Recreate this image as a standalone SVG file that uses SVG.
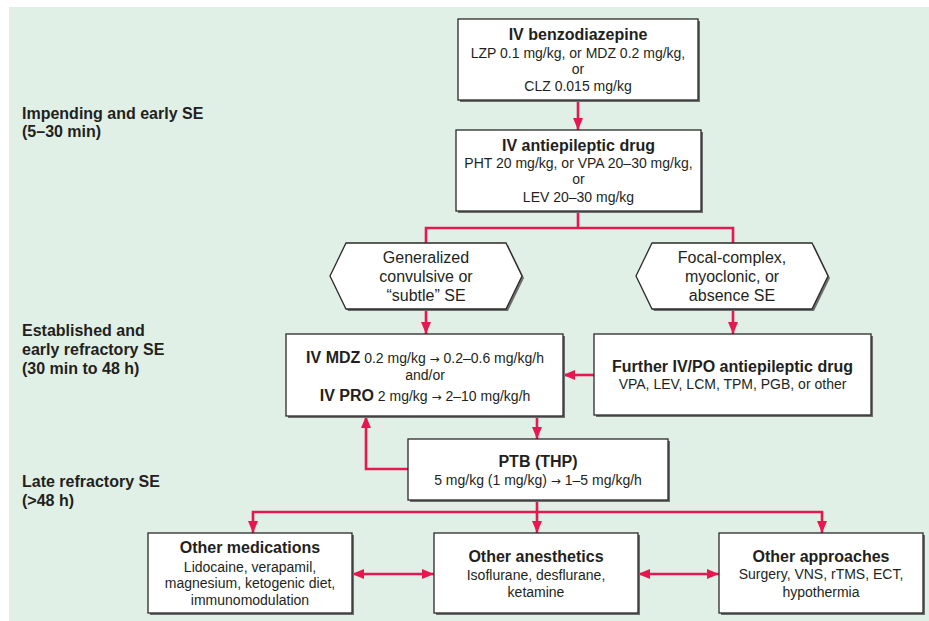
<svg xmlns="http://www.w3.org/2000/svg" width="929" height="621" viewBox="0 0 929 621">
<defs>
<style>
.bg{fill:#e1f0e6}
.sh{fill:#6e6e6e}
.box{fill:#ffffff;stroke:#2a2a2a;stroke-width:1.3}
.t{font-family:"Liberation Sans",Arial,sans-serif;fill:#231f20;text-anchor:middle}
.ti{font-size:16px;font-weight:bold}
.bd{font-size:14px}
.hx{font-size:16px}
.lab{font-family:"Liberation Sans",Arial,sans-serif;fill:#231f20;font-size:16px;font-weight:bold}
.b{font-weight:bold;font-size:16px}
.ar{font-family:"DejaVu Sans",sans-serif;font-size:12px}
.c{fill:none;stroke:#e5194f;stroke-width:2.6}
.a{marker-end:url(#ah)}
.aa{marker-start:url(#ah);marker-end:url(#ah)}
</style>
<marker id="ah" markerUnits="userSpaceOnUse" markerWidth="12" markerHeight="12" viewBox="0 0 12 12" refX="12" refY="6" orient="auto-start-reverse">
<path d="M0,1 L12,6 L0,11 Z" fill="#e5194f"/>
</marker>
</defs>
<rect class="bg" x="9" y="7" width="920" height="614"/>

<g id="labels">
<text class="lab" x="22" y="119">Impending and early SE</text>
<text class="lab" x="22" y="137">(5–30 min)</text>
<text class="lab" x="22" y="336">Established and</text>
<text class="lab" x="22" y="355">early refractory SE</text>
<text class="lab" x="22" y="374">(30 min to 48 h)</text>
<text class="lab" x="22" y="487">Late refractory SE</text>
<text class="lab" x="22" y="506">(&gt;48 h)</text>
</g>

<g id="connectors">
<path class="c a" d="M578,100 V130"/>
<path class="c" d="M578,211 V228"/>
<path class="c" d="M426,243 V228 H733 V243"/>
<path class="c a" d="M426,309 V334"/>
<path class="c a" d="M733,309 V334"/>
<path class="c a" d="M594,375 H563"/>
<path class="c a" d="M537,416 V439"/>
<path class="c a" d="M408,469 H366 V416"/>
<path class="c a" d="M537,500 V533"/>
<path class="c a" d="M537,512 H253 V533"/>
<path class="c a" d="M537,512 H822 V533"/>
<path class="c aa" d="M352,574 H434"/>
<path class="c aa" d="M638,574 H719"/>
</g>

<g id="benzo">
<rect class="sh" x="460" y="21" width="240" height="81"/>
<rect class="box" x="458" y="19" width="240" height="81"/>
<text class="t ti" x="578" y="40">IV benzodiazepine</text>
<text class="t bd" x="578" y="58">LZP 0.1 mg/kg, or MDZ 0.2 mg/kg,</text>
<text class="t bd" x="578" y="74">or</text>
<text class="t bd" x="578" y="91">CLZ 0.015 mg/kg</text>
</g>

<g id="aed">
<rect class="sh" x="458" y="132" width="245" height="81"/>
<rect class="box" x="456" y="130" width="245" height="81"/>
<text class="t ti" x="578.5" y="151">IV antiepileptic drug</text>
<text class="t bd" x="578.5" y="168">PHT 20 mg/kg, or VPA 20–30 mg/kg,</text>
<text class="t bd" x="578.5" y="184">or</text>
<text class="t bd" x="578.5" y="202">LEV 20–30 mg/kg</text>
</g>

<g id="hex-generalized">
<polygon class="sh" points="332,278 348,245 508,245 524,278 508,311 348,311"/>
<polygon class="box" points="330,276 346,243 506,243 522,276 506,309 346,309"/>
<text class="t hx" x="426" y="263">Generalized</text>
<text class="t hx" x="426" y="282">convulsive or</text>
<text class="t hx" x="426" y="301">“subtle” SE</text>
</g>

<g id="hex-focal">
<polygon class="sh" points="638,278 654,245 814,245 830,278 814,311 654,311"/>
<polygon class="box" points="636,276 652,243 812,243 828,276 812,309 652,309"/>
<text class="t hx" x="732" y="263">Focal-complex,</text>
<text class="t hx" x="732" y="282">myoclonic, or</text>
<text class="t hx" x="732" y="301">absence SE</text>
</g>

<g id="mdz-pro">
<rect class="sh" x="288" y="336" width="277" height="82"/>
<rect class="box" x="286" y="334" width="277" height="82"/>
<text class="t bd" x="425" y="363"><tspan class="b">IV MDZ</tspan> 0.2 mg/kg <tspan class="ar">→</tspan> 0.2–0.6 mg/kg/h</text>
<text class="t bd" x="425" y="380">and/or</text>
<text class="t bd" x="425" y="401"><tspan class="b">IV PRO</tspan> 2 mg/kg <tspan class="ar">→</tspan> 2–10 mg/kg/h</text>
</g>

<g id="further-aed">
<rect class="sh" x="596" y="336" width="277" height="81"/>
<rect class="box" x="594" y="334" width="277" height="81"/>
<text class="t ti" x="732.5" y="372">Further IV/PO antiepileptic drug</text>
<text class="t bd" x="732.5" y="389">VPA, LEV, LCM, TPM, PGB, or other</text>
</g>

<g id="ptb">
<rect class="sh" x="410" y="441" width="260" height="61"/>
<rect class="box" x="408" y="439" width="260" height="61"/>
<text class="t ti" x="538" y="467">PTB (THP)</text>
<text class="t bd" x="538" y="485">5 mg/kg (1 mg/kg) <tspan class="ar">→</tspan> 1–5 mg/kg/h</text>
</g>

<g id="other-medications">
<rect class="sh" x="150" y="535" width="204" height="80"/>
<rect class="box" x="148" y="533" width="204" height="80"/>
<text class="t ti" x="250" y="553">Other medications</text>
<text class="t bd" x="250" y="572">Lidocaine, verapamil,</text>
<text class="t bd" x="250" y="588">magnesium, ketogenic diet,</text>
<text class="t bd" x="250" y="605">immunomodulation</text>
</g>

<g id="other-anesthetics">
<rect class="sh" x="436" y="535" width="204" height="80"/>
<rect class="box" x="434" y="533" width="204" height="80"/>
<text class="t ti" x="536" y="562">Other anesthetics</text>
<text class="t bd" x="536" y="580">Isoflurane, desflurane,</text>
<text class="t bd" x="536" y="597">ketamine</text>
</g>

<g id="other-approaches">
<rect class="sh" x="721" y="535" width="204" height="80"/>
<rect class="box" x="719" y="533" width="204" height="80"/>
<text class="t ti" x="821" y="562">Other approaches</text>
<text class="t bd" x="821" y="579">Surgery, VNS, rTMS, ECT,</text>
<text class="t bd" x="821" y="597">hypothermia</text>
</g>
</svg>
